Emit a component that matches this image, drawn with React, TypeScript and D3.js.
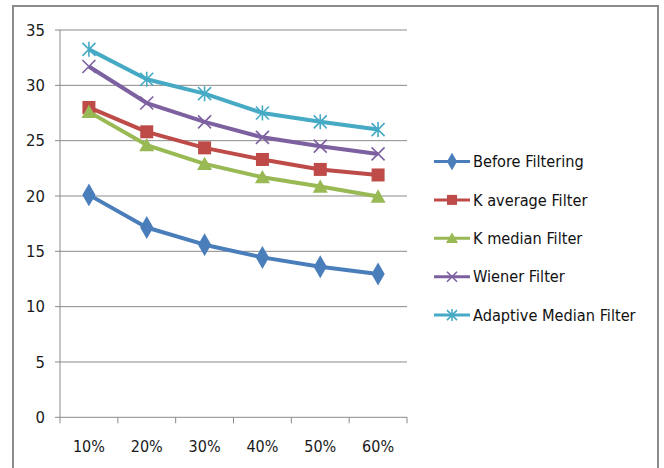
import React from "react";
import * as d3 from "d3";

const categories = ["10%", "20%", "30%", "40%", "50%", "60%"];
const yTicks = [0, 5, 10, 15, 20, 25, 30, 35];

const seriesNames = [
  "Before Filtering",
  "K average Filter",
  "K median Filter",
  "Wiener Filter",
  "Adaptive Median Filter",
];
const beforeFiltering = [20.1, 17.15, 15.6, 14.45, 13.6, 12.95];
const kAverage = [28.0, 25.8, 24.35, 23.3, 22.4, 21.9];
const kMedian = [27.6, 24.6, 22.9, 21.7, 20.85, 19.95];
const wiener = [31.7, 28.4, 26.7, 25.3, 24.5, 23.8];
const adaptiveMedian = [33.25, 30.55, 29.25, 27.5, 26.7, 26.0];

const seriesValues = [beforeFiltering, kAverage, kMedian, wiener, adaptiveMedian];
const colors = ["#4A7EBB", "#BE4B48", "#98B954", "#7D60A0", "#46AAC5"];
const markers = ["diamond", "square", "triangle", "x", "star"];

const FONT = "'DejaVu Sans Condensed', 'Liberation Sans Narrow', 'Open Sans', sans-serif";

function Marker({ kind, x, y, color, s }: { kind: string; x: number; y: number; color: string; s: number }) {
  if (kind === "diamond") {
    const p = d3.symbol(d3.symbolDiamond, s * s * 0.9)();
    return <path d={p!} transform={`translate(${x},${y})`} fill={color} />;
  }
  if (kind === "square") {
    return <rect x={x - s / 2} y={y - s / 2} width={s} height={s} fill={color} />;
  }
  if (kind === "triangle") {
    const h = s * 0.95;
    return <path d={`M${x},${y - h / 2 - 1}L${x + s / 2 + 1},${y + h / 2}L${x - s / 2 - 1},${y + h / 2}Z`} fill={color} />;
  }
  if (kind === "x") {
    const r = s / 2;
    return (
      <path
        d={`M${x - r},${y - r}L${x + r},${y + r}M${x - r},${y + r}L${x + r},${y - r}`}
        stroke={color}
        strokeWidth={1.6}
      />
    );
  }
  const r = s / 2;
  return (
    <path
      d={`M${x - r},${y - r}L${x + r},${y + r}M${x - r},${y + r}L${x + r},${y - r}M${x},${y - r - 1}L${x},${y + r + 1}`}
      stroke={color}
      strokeWidth={1.6}
    />
  );
}

export default function App() {
  const width = 664;
  const height = 468;
  const left = 60;
  const right = 407;
  const top = 30;
  const bottom = 417.3;

  const x = d3.scaleBand<string>().domain(categories).range([left, right]);
  const y = d3.scaleLinear().domain([0, 35]).range([bottom, top]);
  const line = d3
    .line<number>()
    .x((_, i) => x(categories[i])! + x.bandwidth() / 2)
    .y((d) => y(d));

  const legendX = 434;
  const legendY0 = 161.5;
  const legendStep = 38.4;

  return (
    <svg
      width={width}
      height={height}
      style={{ position: "absolute", left: 0, top: 0, background: "#fff" }}
      fontFamily={FONT}
    >
      <rect x={0} y={0} width={width} height={height} fill="#fff" />
      {/* chart frame */}
      <path d={`M13,${height + 2}V6H658V${height + 2}`} fill="none" stroke="#8c8c8c" strokeWidth={2} />

      {/* gridlines */}
      {yTicks.map((t) => (
        <g key={t}>
          <line x1={left} x2={right} y1={y(t)} y2={y(t)} stroke="#8a8a8a" strokeWidth={1} />
          <line x1={left - 5} x2={left} y1={y(t)} y2={y(t)} stroke="#8a8a8a" strokeWidth={1} />
          <text x={45} y={y(t)} dy="0.35em" textAnchor="end" fontSize={16.5} fill="#1a1a1a">
            {t}
          </text>
        </g>
      ))}
      <line x1={left} x2={left} y1={top} y2={bottom} stroke="#8a8a8a" strokeWidth={1} />

      {/* category ticks and labels */}
      {categories.map((c, i) => (
        <line key={"t" + i} x1={x(c)!} x2={x(c)!} y1={bottom} y2={bottom + 6} stroke="#8a8a8a" strokeWidth={1} />
      ))}
      <line x1={right} x2={right} y1={bottom} y2={bottom + 6} stroke="#8a8a8a" strokeWidth={1} />
      {categories.map((c) => (
        <text key={c} x={x(c)! + x.bandwidth() / 2} y={446} dy="0.35em" textAnchor="middle" fontSize={16} fill="#1a1a1a">
          {c}
        </text>
      ))}

      {/* series */}
      {seriesValues.map((vals, si) => (
        <g key={si}>
          <path d={line(vals)!} fill="none" stroke={colors[si]} strokeWidth={4} strokeLinejoin="round" />
          {vals.map((v, i) => (
            <Marker
              key={i}
              kind={markers[si]}
              x={x(categories[i])! + x.bandwidth() / 2}
              y={y(v)}
              color={colors[si]}
              s={13}
            />
          ))}
        </g>
      ))}

      {/* legend */}
      {seriesNames.map((name, si) => {
        const ly = legendY0 + si * legendStep;
        return (
          <g key={name}>
            <line x1={legendX} x2={legendX + 36} y1={ly} y2={ly} stroke={colors[si]} strokeWidth={3} />
            <Marker kind={markers[si]} x={legendX + 18} y={ly} color={colors[si]} s={10} />
            <text x={legendX + 39} y={ly} dy="0.35em" fontSize={16.2} fill="#111">
              {name}
            </text>
          </g>
        );
      })}
    </svg>
  );
}
